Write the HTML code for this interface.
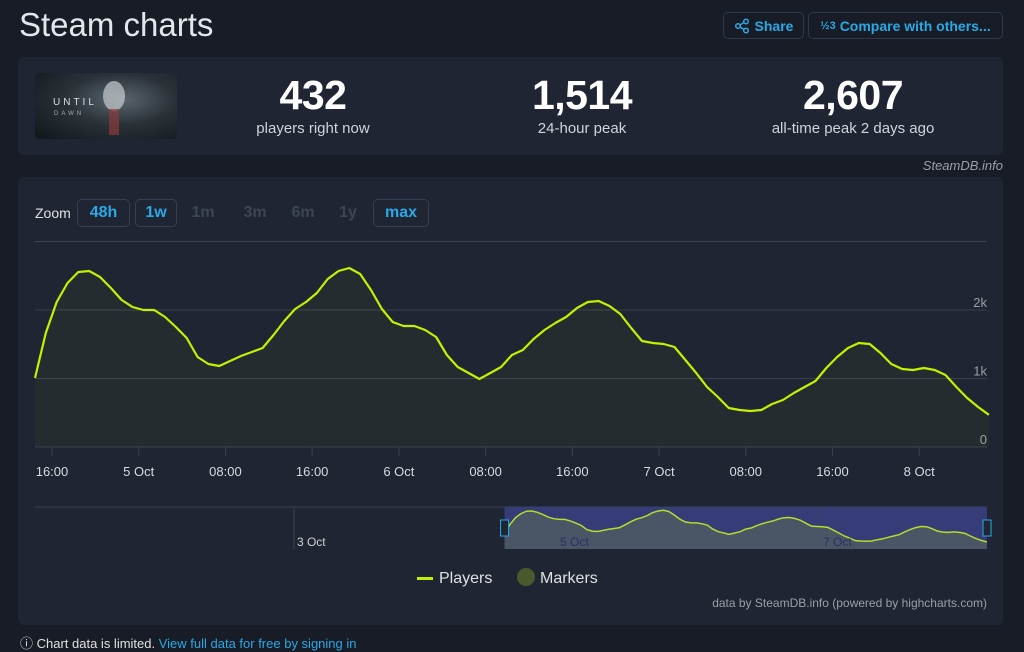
<!DOCTYPE html>
<html><head><meta charset="utf-8">
<style>
body{margin:0;width:1024px;height:639px;overflow:hidden;background:#171c26;font-family:"Liberation Sans",sans-serif;position:relative}
.a{position:absolute}
.btn{position:absolute;border:1px solid #2e3a4c;border-radius:5px;color:#29a9e6;font-weight:bold;font-size:14px;box-sizing:border-box;display:flex;align-items:center;justify-content:center}
.panel{position:absolute;background:#1f2532;border-radius:6px}
.num{position:absolute;color:#fff;font-weight:bold;font-size:41px;text-align:center;width:260px;letter-spacing:-0.5px}
.lbl{position:absolute;color:#cfd4dc;font-size:15px;text-align:center;width:260px}
.z{position:absolute;top:199px;height:28px;font-size:16px;font-weight:bold;display:flex;align-items:center;justify-content:center;box-sizing:border-box;border-radius:5px}
</style></head><body>
<div class="a" style="left:19px;top:6px;font-size:33px;color:#e4e6ea">Steam charts</div>
<div class="btn" style="left:723px;top:12px;width:81px;height:27px"><svg width="16" height="16" viewBox="0 0 16 16" style="margin-right:5px"><circle cx="4" cy="8" r="2.3" fill="none" stroke="#29a9e6" stroke-width="1.5"/><circle cx="12" cy="3.5" r="2.3" fill="none" stroke="#29a9e6" stroke-width="1.5"/><circle cx="12" cy="12.5" r="2.3" fill="none" stroke="#29a9e6" stroke-width="1.5"/><path d="M6 7L10 4.5M6 9L10 11.5" stroke="#29a9e6" stroke-width="1.5"/></svg>Share</div>
<div class="btn" style="left:808px;top:12px;width:195px;height:27px"><span style="font-size:11px;margin-right:4px">½3</span>Compare with others...</div>

<div class="panel" style="left:18px;top:57px;width:985px;height:98px"></div>
<div class="a" style="left:35px;top:73px;width:142px;height:66px;border-radius:4px;background:radial-gradient(ellipse at 60% 40%,#5a6670 0%,#2a3238 45%,#10161a 100%)">
<div class="a" style="left:18px;top:24px;color:#ddd;font-size:10px;letter-spacing:3px">UNTIL</div>
<div class="a" style="left:19px;top:38px;color:#aaa;font-size:6px;letter-spacing:3px">DAWN</div>
<div class="a" style="left:68px;top:8px;width:22px;height:30px;border-radius:50%;background:#c6ccd0;opacity:.7"></div>
<div class="a" style="left:74px;top:36px;width:10px;height:26px;background:#8a3a3a;opacity:.7"></div>
</div>
<div class="num" style="left:183px;top:72px">432</div>
<div class="lbl" style="left:183px;top:120px">players right now</div>
<div class="num" style="left:452px;top:72px">1,514</div>
<div class="lbl" style="left:452px;top:120px">24-hour peak</div>
<div class="num" style="left:723px;top:72px">2,607</div>
<div class="lbl" style="left:723px;top:120px">all-time peak 2 days ago</div>
<div class="a" style="right:21px;top:158px;color:#9aa0a8;font-size:13px;font-style:italic">SteamDB.info</div>

<div class="panel" style="left:18px;top:177px;width:985px;height:448px"></div>
<div class="a" style="left:35px;top:205px;color:#e0e0e0;font-size:14px">Zoom</div>
<div class="z" style="left:77px;width:53px;border:1px solid #334055;color:#29a9e6">48h</div>
<div class="z" style="left:135px;width:42px;border:1px solid #334055;color:#29a9e6">1w</div>
<div class="z" style="left:188px;width:30px;color:#3c4657">1m</div>
<div class="z" style="left:238px;width:34px;color:#3c4657">3m</div>
<div class="z" style="left:286px;width:34px;color:#3c4657">6m</div>
<div class="z" style="left:334px;width:28px;color:#3c4657">1y</div>
<div class="z" style="left:373px;width:56px;border:1px solid #334055;color:#29a9e6">max</div>

<svg class="a" id="chart" style="left:0;top:0" width="1024" height="639"></svg>

<div class="a" style="left:417px;top:570px;font-size:16px;color:#e0e0e0"><span style="display:inline-block;width:16px;height:3px;background:#c5f000;vertical-align:middle;margin-right:6px"></span>Players</div>
<div class="a" style="left:517px;top:570px;font-size:16px;color:#e0e0e0"><span style="display:inline-block;width:18px;height:18px;border-radius:50%;background:#4a5a2c;vertical-align:middle;margin-right:5px;margin-top:-3px"></span>Markers</div>
<div class="a" style="right:37px;top:596px;font-size:12px;color:#9aa0a8">data by SteamDB.info (powered by highcharts.com)</div>
<div class="a" style="left:20px;top:633px;font-size:13px;color:#e0e0e0">ⓘ Chart data is limited. <span style="color:#29a9e6">View full data for free by signing in</span></div>

<script>
const startHour = 14.43; // hours after 4 Oct 00:00
const players = [1007,1664,2117,2394,2555,2569,2482,2321,2146,2044,2000,2000,1898,1752,1591,1314,1212,1182,1255,1328,1387,1445,1635,1839,2015,2117,2248,2453,2569,2613,2526,2292,2015,1825,1766,1766,1708,1606,1343,1168,1080,993,1080,1168,1343,1416,1577,1708,1810,1898,2029,2117,2131,2058,1942,1737,1547,1518,1504,1460,1270,1080,876,730,569,540,526,540,628,686,788,876,964,1153,1314,1445,1518,1504,1372,1212,1139,1124,1153,1124,1051,876,715,584,470];
const xTickHours = [16,24,32,40,48,56,64,72,80,88,96];
const xTickLabels = ["16:00","5 Oct","08:00","16:00","6 Oct","08:00","16:00","7 Oct","08:00","16:00","8 Oct"];
const yTicks = [0,1000,2000,3000];
const yTickLabels = ["0","1k","2k",""];
const navTickHours = [-24,24,72];
const navTickLabels = ["3 Oct","5 Oct","7 Oct"];

const NS="http://www.w3.org/2000/svg";
const svg=document.getElementById('chart');
function mk(t,a,p){const e=document.createElementNS(NS,t);for(const k in a)e.setAttribute(k,a[k]);(p||svg).appendChild(e);return e;}
const x=h=>52+(h-16)*10.84;
const y=v=>447-v*0.0685;
const nx=h=>557+(h-24)*5.48;
const ny=v=>549-v*0.0148;
const hourOf=i=>startHour+i;

yTicks.forEach((v,i)=>{
  const g=mk('line',{x1:35,x2:987,y1:y(v),y2:y(v),stroke:'#374152','stroke-width':1});
  
  
  if(yTickLabels[i]){const t=mk('text',{x:987,y:y(v)-3,'text-anchor':'end','font-size':13,fill:'#9aa0a8','font-family':'Liberation Sans'});t.textContent=yTickLabels[i];
  
  }
});
xTickHours.forEach((h,i)=>{
  const l=mk('line',{x1:x(h),x2:x(h),y1:447,y2:456,stroke:'#374152'});
  
  
  const t=mk('text',{x:x(h),y:476,'text-anchor':'middle','font-size':13,fill:'#d8dbe0','font-family':'Liberation Sans'});t.textContent=xTickLabels[i];
  
  
});
let d='';players.forEach((v,i)=>{d+=(i?'L':'M')+x(hourOf(i)).toFixed(1)+','+y(v).toFixed(1);});
const area=mk('path',{d:d+'L'+x(hourOf(players.length-1))+',447L'+x(hourOf(0))+',447Z',fill:'rgba(197,240,0,0.04)'});


const line=mk('path',{d:d,fill:'none',stroke:'#c5f000','stroke-width':2.2,'stroke-linejoin':'round'});



// navigator
const nb=mk('line',{x1:35,x2:987,y1:507,y2:507,stroke:'#3a4456'});


const sel0=nx(hourOf(0)), sel1=987;
const mask=mk('rect',{x:sel0,y:507,width:sel1-sel0,height:42,fill:'#363c78'});


navTickHours.forEach((h,i)=>{
  const l=mk('line',{x1:nx(h),x2:nx(h),y1:507,y2:549,stroke:'#3a4456'});
  
  
});
let nd='';players.forEach((v,i)=>{nd+=(i?'L':'M')+nx(hourOf(i)).toFixed(1)+','+ny(v).toFixed(1);});
const na=mk('path',{d:nd+'L'+nx(hourOf(players.length-1))+',549L'+nx(hourOf(0))+',549Z',fill:'#4a5566'});


const nl=mk('path',{d:nd,fill:'none',stroke:'#b5dc2a','stroke-width':1.5});


navTickHours.forEach((h,i)=>{
  const t=mk('text',{x:nx(h)+3,y:546,'font-size':12,fill:i?'#2a2f66':'#d0d0d0','font-family':'Liberation Sans'});t.textContent=navTickLabels[i];
  
  
});
[sel0,sel1].forEach(px=>{
  const r=mk('rect',{x:px-4,y:520,width:8,height:16,fill:'#1f2532',stroke:'#29a9e6','stroke-width':1});
  
  
});
</script>
</body></html>
